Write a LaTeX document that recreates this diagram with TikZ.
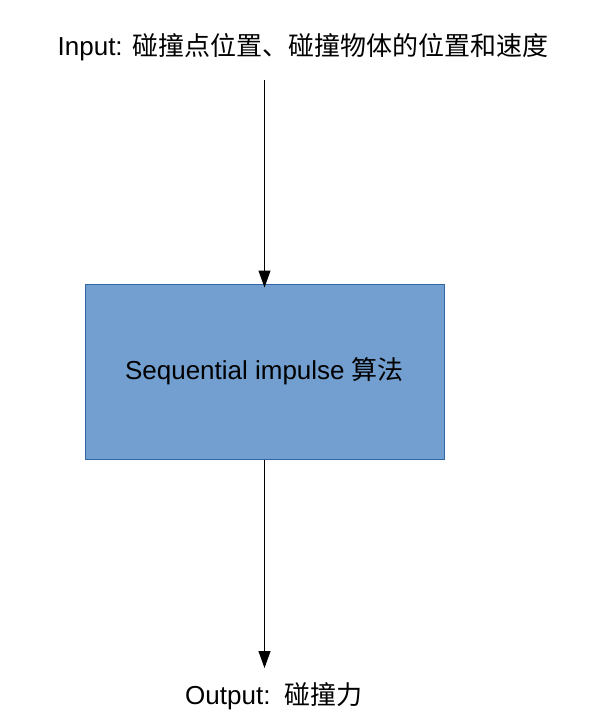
\documentclass[tikz,border=0pt]{standalone}
\usepackage{fontspec}
\setmainfont{Liberation Sans}
\newfontfamily\cjk{Noto Sans CJK SC}
\usetikzlibrary{arrows.meta}
\definecolor{boxfill}{HTML}{729FCF}
\definecolor{boxline}{HTML}{3465A4}
\tikzset{
  lbl/.style={inner sep=0pt, font=\fontsize{26}{30}\selectfont},
  algbox/.style={draw=boxline, fill=boxfill, line width=1pt, minimum width=359pt, minimum height=175pt, inner sep=0pt, font=\fontsize{26}{30}\selectfont},
  arr/.style={line width=1pt, -{Triangle[width=12pt,length=17pt]}}
}
\begin{document}
\begin{tikzpicture}[x=1pt,y=-1pt]
\useasboundingbox (0,0) rectangle (589,726);
\node[lbl, anchor=base] (in) at (303,55) {Input: {\cjk 碰撞点位置、碰撞物体的位置和速度}};
\node[algbox] (b) at (264.5,371.5) {Sequential impulse {\cjk 算法}};
\node[lbl, anchor=base west] (out) at (185,704) {Output:\ \ {\cjk 碰撞力}};
\coordinate (s1) at (264.5,80);
\coordinate (e2) at (264.5,668);
\draw[arr, shorten >=-4pt] (s1) -- (b.north);
\draw[arr] (b.south) -- (e2);
\end{tikzpicture}
\end{document}
